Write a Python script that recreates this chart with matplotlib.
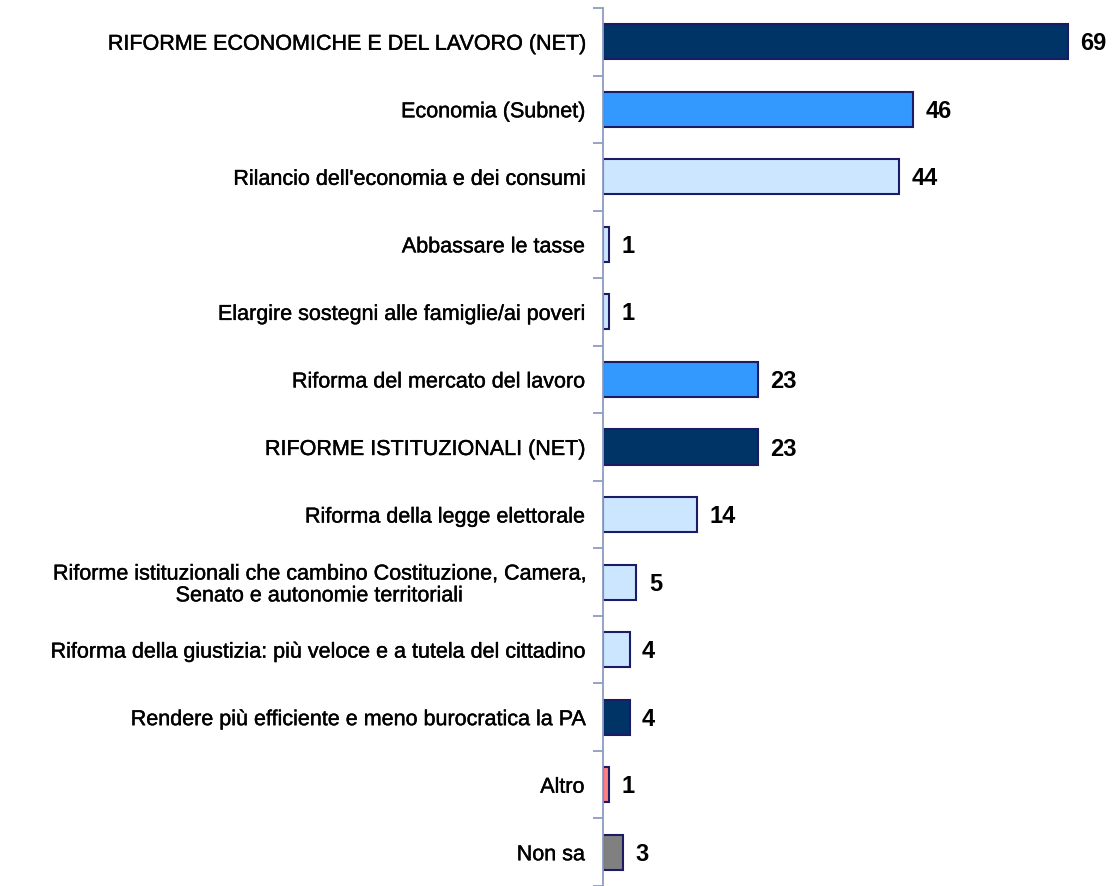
import matplotlib
matplotlib.use("Agg")
import matplotlib.pyplot as plt
import matplotlib.patheffects as pe

categories = [
    "RIFORME ECONOMICHE E DEL LAVORO (NET)",
    "Economia (Subnet)",
    "Rilancio dell'economia e dei consumi",
    "Abbassare le tasse",
    "Elargire sostegni alle famiglie/ai poveri",
    "Riforma del mercato del lavoro",
    "RIFORME ISTITUZIONALI (NET)",
    "Riforma della legge elettorale",
    "Riforme istituzionali che cambino Costituzione, Camera,\nSenato e autonomie territoriali",
    "Riforma della giustizia: più veloce e a tutela del cittadino",
    "Rendere più efficiente e meno burocratica la PA",
    "Altro",
    "Non sa",
]
values = [69, 46, 44, 1, 1, 23, 23, 14, 5, 4, 4, 1, 3]
colors = ["#003366", "#3399FF", "#CCE6FF", "#CCE6FF", "#CCE6FF", "#3399FF",
          "#003366", "#CCE6FF", "#CCE6FF", "#CCE6FF", "#003366", "#FF8080", "#808080"]

plt.rcParams['font.family'] = ['Liberation Sans', 'DejaVu Sans']

fig = plt.figure(figsize=(11.16, 8.86), dpi=100)
ax = fig.add_axes([0.540, 0.0, 0.460, 0.991])

n = len(categories)
ypos = list(range(n))
ax.barh(ypos, values, height=0.52, color=colors, edgecolor="#1C1C66", linewidth=1.5)
ax.set_ylim(n - 0.5, -0.5)
ax.set_xlim(0, 76.1)

for y, v in zip(ypos, values):
    ax.annotate(str(v), xy=(v, y), xytext=(9, -1.5), textcoords="offset points",
                ha="left", va="center", fontsize=17, fontweight="bold", color="black")

ax.set_yticks(ypos)
ax.set_yticklabels(categories, fontsize=15.5, ha="right", multialignment="center",
                   linespacing=1.05)
for lbl in ax.get_yticklabels():
    lbl.set_path_effects([pe.withStroke(linewidth=0.3, foreground="black")])
ax.tick_params(axis="y", length=0, pad=13)
ax.set_yticks([i - 0.5 for i in range(n + 1)], minor=True)
ax.tick_params(axis="y", which="minor", length=7, color="#8E9CC0", width=1.3)

ax.set_xticks([])
for s in ["top", "right", "bottom"]:
    ax.spines[s].set_visible(False)
ax.spines["left"].set_color("#8E9CC0")
ax.spines["left"].set_linewidth(1.3)

fig.savefig("out.png", dpi=100)
